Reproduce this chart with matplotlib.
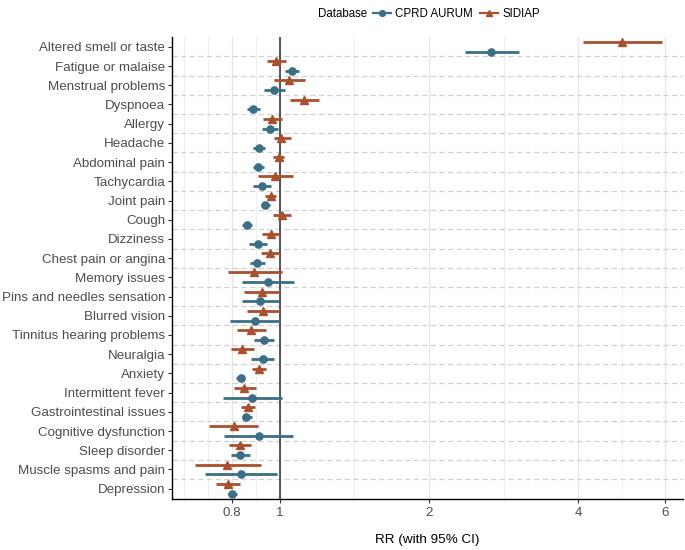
import matplotlib
matplotlib.use("Agg")
import matplotlib.pyplot as plt
from matplotlib.lines import Line2D
import numpy as np

plt.rcParams['font.family'] = ['Liberation Sans', 'DejaVu Sans']
plt.rcParams['lines.scale_dashes'] = False

categories = [
    "Altered smell or taste", "Fatigue or malaise", "Menstrual problems", "Dyspnoea",
    "Allergy", "Headache", "Abdominal pain", "Tachycardia", "Joint pain", "Cough",
    "Dizziness", "Chest pain or angina", "Memory issues", "Pins and needles sensation",
    "Blurred vision", "Tinnitus hearing problems", "Neuralgia", "Anxiety",
    "Intermittent fever", "Gastrointestinal issues", "Cognitive dysfunction",
    "Sleep disorder", "Muscle spasms and pain", "Depression",
]

sidiap_rr = [4.90, 0.980, 1.044, 1.120, 0.965, 1.006, 0.994, 0.977, 0.958, 1.008,
             0.959, 0.956, 0.888, 0.920, 0.925, 0.875, 0.838, 0.906, 0.847, 0.861,
             0.806, 0.830, 0.783, 0.786]
sidiap_lo = [4.09, 0.940, 0.971, 1.049, 0.925, 0.972, 0.969, 0.904, 0.934, 0.969,
             0.921, 0.917, 0.785, 0.846, 0.859, 0.820, 0.795, 0.878, 0.807, 0.835,
             0.718, 0.790, 0.673, 0.744]
sidiap_hi = [5.90, 1.027, 1.125, 1.200, 1.009, 1.051, 1.020, 1.061, 0.982, 1.054,
             0.998, 1.000, 1.008, 1.000, 1.000, 0.936, 0.885, 0.938, 0.893, 0.889,
             0.904, 0.875, 0.914, 0.829]

cprd_rr = [2.67, 1.056, 0.973, 0.883, 0.953, 0.907, 0.904, 0.918, 0.934, 0.856,
           0.904, 0.900, 0.944, 0.911, 0.889, 0.928, 0.923, 0.833, 0.878, 0.855,
           0.906, 0.831, 0.834, 0.800]
cprd_lo = [2.36, 1.025, 0.928, 0.858, 0.918, 0.883, 0.883, 0.881, 0.915, 0.839,
           0.867, 0.871, 0.837, 0.837, 0.791, 0.886, 0.875, 0.815, 0.767, 0.837,
           0.772, 0.797, 0.705, 0.784]
cprd_hi = [3.04, 1.090, 1.022, 0.912, 0.989, 0.933, 0.927, 0.958, 0.956, 0.877,
           0.943, 0.933, 1.069, 0.994, 0.998, 0.974, 0.974, 0.851, 1.008, 0.877,
           1.062, 0.868, 0.986, 0.817]

x_ticks = [0.8, 1, 2, 4, 6]
x_tick_labels = ["0.8", "1", "2", "4", "6"]
x_minor = [0.64, 0.716, 0.894, 1.414, 2.83, 4.9]

TEAL = "#3A6F86"
RUST = "#A9502F"

W, H = 685, 550
fig = plt.figure(figsize=(W / 100, H / 100), dpi=100)
ax = fig.add_axes([172 / W, 1 - 498.5 / H, (683 - 172) / W, (498.5 - 37) / H])

n = len(categories)
y = np.arange(n)
off = 0.255

ax.set_xscale('log')
ax.set_xlim(0.605, 6.52)
ax.set_ylim(n - 1 + 0.51, -0.51)

for v in x_minor:
    ax.axvline(v, color="#EDEDED", lw=0.6, zorder=0)
for v in x_ticks:
    ax.axvline(v, color="#E6E6E6", lw=1.0, zorder=0)
for i in range(n - 1):
    ax.axhline(i + 0.5, color="#D0D0D6", lw=0.9, linestyle=(0, (3.8, 2.4)), zorder=0.5)

ax.axvline(1, color="#2B2B2B", lw=1.1, zorder=1)

ax.hlines(y + off, cprd_lo, cprd_hi, color=TEAL, lw=2.0, zorder=3)
ax.plot(cprd_rr, y + off, 'o', color=TEAL, ms=5.2, zorder=4)
ax.hlines(y - off, sidiap_lo, sidiap_hi, color=RUST, lw=2.0, zorder=3)
ax.plot(sidiap_rr, y - off, '^', color=RUST, ms=5.8, zorder=4)

ax.set_xticks(x_ticks)
ax.set_xticklabels(x_tick_labels)
ax.xaxis.set_minor_locator(matplotlib.ticker.NullLocator())
ax.set_yticks(y)
ax.set_yticklabels(categories)

ax.tick_params(axis='x', length=3, width=0.8, colors="#333333", labelsize=9.6, labelcolor="#4D4D4D", pad=3)
ax.tick_params(axis='y', length=3, width=0.8, colors="#333333", labelsize=9.6, labelcolor="#4D4D4D", pad=2)

for s in ['top', 'right']:
    ax.spines[s].set_visible(False)
for s in ['left', 'bottom']:
    ax.spines[s].set_color("#000000")
    ax.spines[s].set_linewidth(1.0)

ax.set_xlabel("RR (with 95% CI)", fontsize=9.7, color="#000000", labelpad=11)

fig.text(318 / W, 1 - 14 / H, "Database", fontsize=8.3, ha='left', va='center')
handles = [
    Line2D([0], [0], color=TEAL, lw=1.6, marker='o', ms=4.2),
    Line2D([0], [0], color=RUST, lw=1.6, marker='^', ms=4.8),
]
fig.legend(handles, ["CPRD AURUM", "SIDIAP"], loc='center left',
           bbox_to_anchor=(373 / W, 1 - 14 / H), ncol=2, frameon=False,
           fontsize=8.3, handlelength=1.6, handletextpad=0.35, columnspacing=0.55,
           borderpad=0, borderaxespad=0)

fig.savefig("out.png", dpi=100)
